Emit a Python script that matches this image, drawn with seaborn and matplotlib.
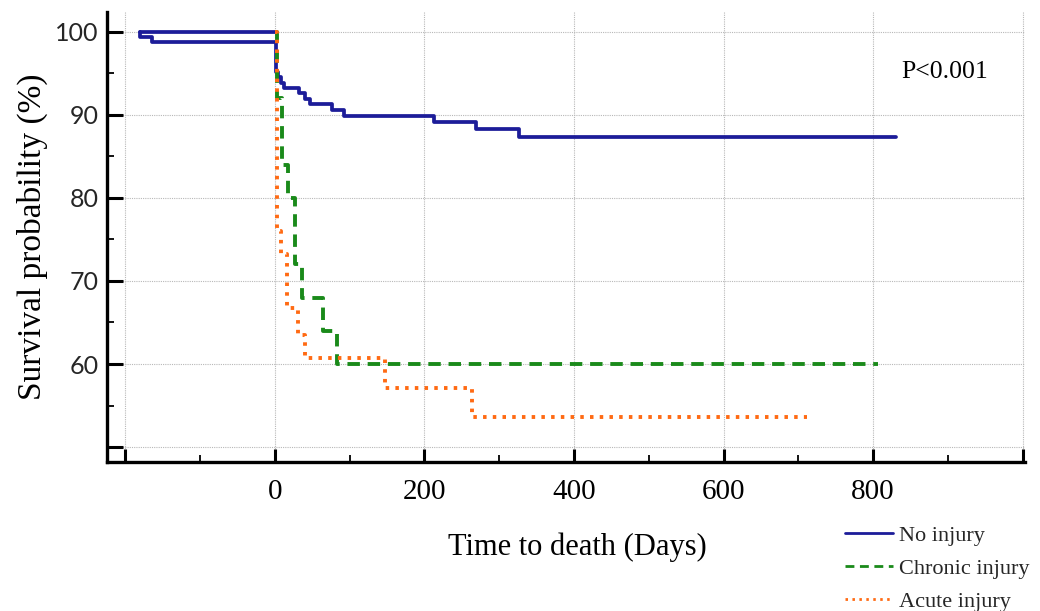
import matplotlib
matplotlib.use("Agg")
import matplotlib.pyplot as plt
from matplotlib.ticker import MultipleLocator
from matplotlib.lines import Line2D
import seaborn as sns
import pandas as pd

# Kaplan-Meier step data (days, survival %)
no_injury_days = [-180, -180, -164, 2, 5, 9, 13, 33, 40, 47, 77, 93, 213, 269, 327, 831]
no_injury_surv = [100, 99.4, 98.8, 95.2, 94.6, 93.9, 93.3, 92.6, 91.9, 91.3, 90.6, 89.9, 89.2, 88.3, 87.4, 87.4]
no_injury_top_days = [-180, 0]
no_injury_top_surv = [100, 100]

chronic_days = [0, 3, 10, 18, 27, 36, 64, 83, 806]
chronic_surv = [100, 92, 84, 80, 72, 68, 64, 60, 60]

acute_days = [0, 3, 9, 17, 31, 40, 147, 264, 712]
acute_surv = [100, 76.0, 73.2, 66.7, 63.5, 60.7, 57.1, 53.6, 53.6]

group_labels = ["No injury", "Chronic injury", "Acute injury"]
colors = ["#1c1c99", "#1a8a1a", "#ff6a13"]

x_ticks = [-200, 0, 200, 400, 600, 800, 1000]
x_labels = ["", "0", "200", "400", "600", "800", ""]
y_ticks = [50, 60, 70, 80, 90, 100]
y_labels = ["", "60", "70", "80", "90", "100"]
p_text = "P<0.001"

sns.set_theme(style="white")
plt.rcParams["font.family"] = ["Liberation Serif", "DejaVu Serif"]

fig = plt.figure(figsize=(10.4, 6.11), dpi=100)
ax = fig.add_axes([0.103, 0.2439, 0.8826, 0.7365])

styles = [
    dict(linestyle="-", lw=2.7),
    dict(linestyle=(0, (3.2, 2.0)), lw=2.8),
    dict(linestyle=(0, (0.9, 1.6)), lw=2.8),
]

frames = [
    pd.DataFrame({"day": no_injury_days, "surv": no_injury_surv}),
    pd.DataFrame({"day": chronic_days, "surv": chronic_surv}),
    pd.DataFrame({"day": acute_days, "surv": acute_surv}),
]

sns.lineplot(x=no_injury_top_days, y=no_injury_top_surv, ax=ax, color=colors[0],
             estimator=None, sort=False, **styles[0])
for df, col, st in zip(frames, colors, styles):
    sns.lineplot(data=df, x="day", y="surv", ax=ax, color=col, estimator=None,
                 sort=False, drawstyle="steps-post", **st)

ax.set_xlim(-224, 1003)
ax.set_ylim(48.2, 102.4)

ax.set_xticks(x_ticks)
ax.set_xticklabels(x_labels)
ax.xaxis.set_minor_locator(MultipleLocator(100))
ax.set_yticks(y_ticks)
ax.set_yticklabels(y_labels)
ax.yaxis.set_minor_locator(MultipleLocator(5))

ax.grid(True, which="major", color="#b8b8b8", linestyle=(0, (1, 1)), linewidth=0.8)
ax.set_axisbelow(True)

for side in ["top", "right"]:
    ax.spines[side].set_visible(False)
for side in ["left", "bottom"]:
    ax.spines[side].set_color("black")
    ax.spines[side].set_linewidth(2.4)

ax.tick_params(axis="x", which="major", direction="in", length=9.5, width=2.2,
               color="black", pad=12, labelsize=21, bottom=True)
ax.tick_params(axis="x", which="minor", direction="in", length=5, width=1.3,
               color="black", bottom=True)
ax.tick_params(axis="y", which="major", direction="in", length=11.5, width=2.2,
               color="black", pad=6, labelsize=18, left=True)
ax.tick_params(axis="y", which="minor", direction="in", length=5, width=1.3,
               color="black", left=True)
for lab in ax.get_yticklabels():
    lab.set_fontfamily(["Lato", "DejaVu Sans"])
for lab in ax.get_xticklabels():
    lab.set_color("black")

ax.set_xlabel("Time to death (Days)", fontsize=22, color="black")
ax.set_ylabel("Survival probability (%)", fontsize=24, color="black", labelpad=5)
ax.xaxis.set_label_coords(0.5125, -0.157)

ax.text(837, 95.2, p_text, fontsize=18.5, color="black", va="center", ha="left")

handles = [Line2D([0], [0], color=c, linestyle=st["linestyle"], lw=2.0)
           for c, st in zip(colors, styles)]
fig.legend(handles, group_labels, loc="upper left", bbox_to_anchor=(0.8125, 0.140),
           frameon=False, fontsize=16, handlelength=2.15, handletextpad=0.3,
           labelspacing=0.55, borderpad=0, borderaxespad=0)

fig.savefig("out.png", dpi=100, facecolor="white")
